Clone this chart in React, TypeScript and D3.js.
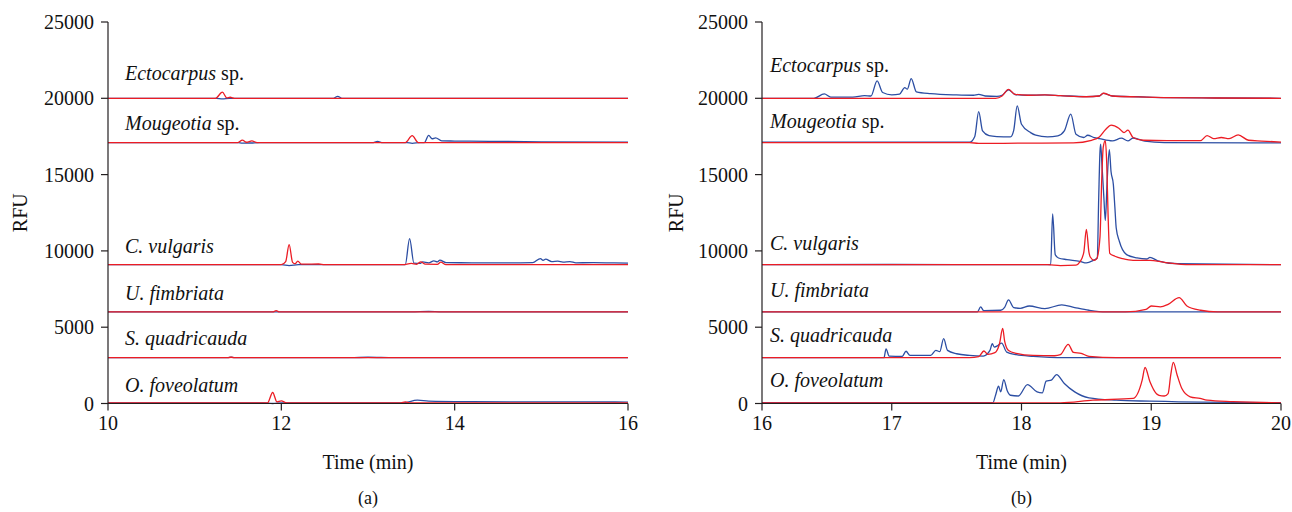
import React from 'react';
import * as d3 from 'd3';

type Pt = [number, number];

// ---------- data ----------
const speciesItalic = ['Ectocarpus', 'Mougeotia', 'C. vulgaris', 'U. fimbriata', 'S. quadricauda', 'O. foveolatum'];
const speciesSuffix = [' sp.', ' sp.', '', '', '', ''];
const traceOffsets = [20000, 17100, 9100, 6000, 3000, 40];

const yTicks = [0, 5000, 10000, 15000, 20000, 25000];
const xTicksA = [10, 12, 14, 16];
const xTicksB = [16, 17, 18, 19, 20];

// panel (a) traces: [time (min), signal above trace offset (RFU)]
const blueA: Pt[][] = [
  [[10, 0], [11.25, 0], [11.32, -40], [11.4, 0], [12.6, 0], [12.65, 130], [12.7, 0], [16, 0]],
  [[10, 0], [11.5, 0], [11.55, -40], [11.65, -30], [11.75, 0], [13.05, 0], [13.11, 70], [13.17, 0], [13.45, 0], [13.51, -50], [13.6, 0], [13.65, 0], [13.7, 470], [13.74, 250], [13.78, 310], [13.85, 110], [14.0, 100], [14.4, 80], [15.0, 50], [16, 30]],
  [[10, 0], [12.0, 0], [12.09, -60], [12.2, 0], [13.43, 0], [13.48, 1700], [13.53, 100], [13.6, 80], [13.63, 180], [13.7, 120], [13.76, 250], [13.8, 180], [13.83, 290], [13.9, 130], [14.2, 120], [14.6, 110], [14.9, 130], [14.99, 400], [15.02, 280], [15.05, 360], [15.12, 200], [15.19, 230], [15.25, 170], [15.33, 200], [15.4, 120], [15.6, 130], [15.84, 110], [16, 100]],
  [[10, 0], [13.5, 0], [13.7, 30], [13.85, 0], [16, 0]],
  [[10, 0], [11.38, 0], [11.42, 40], [11.46, 0], [12.8, 0], [13.0, 30], [13.3, 0], [16, 0]],
  [[10, 0], [11.8, 0], [11.9, -40], [12.0, 0], [13.4, 0], [13.57, 175], [13.7, 120], [14.2, 80], [15.0, 60], [15.5, 70], [16, 50]],
];
const redA: Pt[][] = [
  [[10, 0], [11.24, 0], [11.32, 400], [11.37, 30], [11.41, 70], [11.46, 0], [16, 0]],
  [[10, 0], [11.5, 0], [11.55, 160], [11.6, 20], [11.66, 110], [11.72, 0], [13.43, 0], [13.51, 450], [13.58, 0], [16, 0]],
  [[10, 0], [12.0, 0], [12.05, 200], [12.09, 1310], [12.13, 150], [12.16, 60], [12.19, 225], [12.23, 30], [12.43, 40], [12.5, 0], [13.4, 0], [13.5, 80], [13.56, 20], [13.61, 180], [13.66, 30], [13.8, 20], [13.84, 160], [13.9, 0], [16, 0]],
  [[10, 0], [11.9, 0], [11.94, 80], [11.98, 0], [16, 0]],
  [[10, 0], [11.38, 0], [11.42, 30], [11.46, 0], [16, 0]],
  [[10, 0], [11.84, 0], [11.9, 680], [11.95, 60], [12.0, 130], [12.06, 0], [13.38, 0], [13.43, 60], [13.48, 0], [16, 0]],
];

// panel (b) traces
const blueB: Pt[][] = [
  [[16, 0], [16.4, 0], [16.48, 285], [16.53, 80], [16.7, 80], [16.79, 175], [16.84, 150], [16.887, 1140], [16.93, 380], [17.0, 230], [17.06, 280], [17.1, 700], [17.12, 600], [17.15, 1290], [17.19, 420], [17.3, 300], [17.5, 220], [17.63, 200], [17.67, 260], [17.72, 150], [17.81, 120], [17.85, 200], [17.9, 560], [17.95, 250], [18.05, 200], [18.18, 220], [18.3, 180], [18.5, 110], [18.6, 150], [18.63, 320], [18.7, 150], [18.9, 100], [19.1, 50], [19.5, 20], [20, 0]],
  [[16, 30], [17.0, 30], [17.6, 20], [17.64, 400], [17.67, 2030], [17.7, 760], [17.75, 450], [17.81, 390], [17.915, 370], [17.94, 800], [17.967, 2400], [18.0, 1200], [18.07, 650], [18.11, 480], [18.2, 370], [18.28, 440], [18.33, 760], [18.38, 1860], [18.42, 545], [18.48, 330], [18.51, 480], [18.56, 330], [18.6, 260], [18.7, 110], [18.77, 285], [18.82, 110], [18.86, 300], [18.95, 100], [19.1, 0], [20, -20]],
  [[16, 0], [17.0, 10], [18.0, 0], [18.225, 0], [18.24, 3320], [18.26, 655], [18.285, 435], [18.35, 330], [18.45, 220], [18.5, 110], [18.55, 260], [18.584, 435], [18.595, 4370], [18.605, 7420], [18.61, 7900], [18.62, 6560], [18.635, 4370], [18.646, 2885], [18.66, 5450], [18.677, 7540], [18.69, 6100], [18.708, 5245], [18.72, 3710], [18.73, 2400], [18.754, 1530], [18.81, 655], [18.89, 440], [18.965, 370], [18.99, 480], [19.05, 250], [19.2, 60], [20, 0]],
  [[16, 0], [17.66, 0], [17.685, 330], [17.71, 80], [17.84, 110], [17.87, 300], [17.9, 790], [17.94, 285], [17.99, 240], [18.06, 390], [18.18, 220], [18.31, 460], [18.41, 285], [18.52, 110], [18.65, 0], [20, 0]],
  [[16, 0], [16.94, 0], [16.956, 580], [16.98, 100], [17.08, 80], [17.11, 425], [17.14, 150], [17.3, 150], [17.34, 480], [17.37, 400], [17.4, 1250], [17.43, 480], [17.5, 260], [17.6, 150], [17.705, 110], [17.757, 480], [17.775, 920], [17.79, 700], [17.82, 810], [17.847, 960], [17.886, 370], [17.96, 200], [18.09, 90], [18.33, 0], [20, 0]],
  [[16, 20], [17.0, 20], [17.78, 20], [17.8, 500], [17.823, 1090], [17.84, 720], [17.863, 1530], [17.89, 800], [17.915, 500], [17.976, 450], [18.046, 1200], [18.12, 720], [18.16, 655], [18.19, 1420], [18.23, 1490], [18.27, 1850], [18.33, 1270], [18.41, 720], [18.52, 330], [18.73, 175], [18.99, 110], [19.38, 45], [20, 20]],
];
const redB: Pt[][] = [
  [[16, 0], [17.8, 0], [17.85, 150], [17.9, 590], [17.95, 260], [18.05, 200], [18.18, 220], [18.3, 170], [18.5, 100], [18.6, 150], [18.63, 330], [18.7, 150], [18.9, 90], [19.1, 50], [19.5, 20], [20, 0]],
  [[16, 0], [17.6, 0], [17.67, -60], [18.0, -40], [18.4, -20], [18.54, 150], [18.6, 370], [18.65, 875], [18.69, 1140], [18.75, 940], [18.79, 655], [18.82, 810], [18.86, 330], [18.94, 150], [19.12, 130], [19.38, 130], [19.43, 460], [19.48, 260], [19.54, 330], [19.6, 260], [19.67, 500], [19.75, 150], [19.85, 100], [20, 30]],
  [[16, 0], [18.2, 0], [18.3, -60], [18.42, -30], [18.45, 175], [18.48, 800], [18.5, 2315], [18.52, 800], [18.53, 500], [18.56, 285], [18.58, 390], [18.605, 1810], [18.618, 5500], [18.63, 7700], [18.646, 8130], [18.657, 6600], [18.667, 3350], [18.68, 740], [18.72, 550], [18.78, 390], [18.86, 280], [18.99, 280], [19.1, 150], [19.3, 0], [20, 0]],
  [[16, 0], [18.8, 0], [18.96, 175], [19.0, 390], [19.07, 330], [19.13, 500], [19.215, 940], [19.275, 390], [19.38, 110], [19.51, 0], [20, 0]],
  [[16, 0], [17.6, 0], [17.67, 65], [17.71, 440], [17.74, 220], [17.795, 330], [17.83, 900], [17.855, 1920], [17.87, 1095], [17.9, 480], [17.96, 285], [18.09, 150], [18.255, 130], [18.3, 200], [18.36, 875], [18.4, 350], [18.46, 285], [18.52, 90], [18.73, 0], [20, 0]],
  [[16, 0], [18.3, 0], [18.55, 175], [18.86, 290], [18.93, 1490], [18.952, 2320], [18.99, 1380], [19.04, 600], [19.06, 500], [19.1, 450], [19.13, 610], [19.15, 1815], [19.17, 2650], [19.2, 1815], [19.236, 940], [19.3, 400], [19.376, 290], [19.43, 175], [19.63, 80], [20, 0]],
];

// ---------- layout ----------
const W = 1292;
const H = 512;
const FONT = '"Liberation Serif", "Times New Roman", serif';
const BLUE = '#2c4ea3';
const RED = '#ec1c24';
const AXIS = '#231f20';
const Y_TOP = 22;
const Y_BOTTOM = 403.5;
const labelLiftA = [21220, 17940, 9850, 6790, 3840, 775];
const labelLiftB = [21740, 18045, 10050, 6990, 4040, 1090];

type PanelProps = {
  domain: [number, number];
  range: [number, number];
  xTicks: number[];
  blue: Pt[][];
  red: Pt[][];
  labelY: number[];
  labelX: number;
  rfuX: number;
  caption: string;
};

function Panel({ domain, range, xTicks, blue, red, labelY, labelX, rfuX, caption }: PanelProps) {
  const x = d3.scaleLinear().domain(domain).range(range);
  const y = d3.scaleLinear().domain([0, 25000]).range([Y_BOTTOM, Y_TOP]);
  const mk = (off: number) =>
    d3
      .line<Pt>()
      .x((d) => x(d[0]))
      .y((d) => y(d[1] + off))
      .curve(d3.curveMonotoneX);
  const x0 = range[0];
  const cx = (range[0] + range[1]) / 2;
  return (
    <g>
      {blue.map((s, i) => (
        <path key={'b' + i} d={mk(traceOffsets[i])(s) || ''} fill="none" stroke={BLUE} strokeWidth={1.3} />
      ))}
      {red.map((s, i) => (
        <path key={'r' + i} d={mk(traceOffsets[i])(s) || ''} fill="none" stroke={RED} strokeWidth={1.3} />
      ))}
      {speciesItalic.map((n, i) => (
        <text key={'l' + i} x={labelX} y={y(labelY[i])} fontFamily={FONT} fontSize={20} fontStyle="italic" fill="#111" style={{ whiteSpace: 'pre' }}>
          {n}
          {speciesSuffix[i] && <tspan fontStyle="normal">{speciesSuffix[i]}</tspan>}
        </text>
      ))}
      <line x1={x0} x2={x0} y1={y(0)} y2={y(25000)} stroke={AXIS} strokeWidth={1.2} />
      {yTicks.map((t) => (
        <g key={'yt' + t}>
          <line x1={x0 - 7} x2={x0} y1={y(t)} y2={y(t)} stroke={AXIS} strokeWidth={1.2} />
          <text x={x0 - 14} y={y(t)} dy="0.35em" textAnchor="end" fontFamily={FONT} fontSize={20} fill="#111">
            {t}
          </text>
        </g>
      ))}
      <line x1={range[0]} x2={range[1]} y1={y(0)} y2={y(0)} stroke={AXIS} strokeWidth={1.2} />
      {xTicks.map((t) => (
        <g key={'xt' + t}>
          <line x1={x(t)} x2={x(t)} y1={y(0)} y2={y(0) + 7} stroke={AXIS} strokeWidth={1.2} />
          <text x={x(t)} y={y(0) + 26} textAnchor="middle" fontFamily={FONT} fontSize={20} fill="#111">
            {t}
          </text>
        </g>
      ))}
      <text x={cx} y={469} textAnchor="middle" fontFamily={FONT} fontSize={20} fill="#111">
        Time (min)
      </text>
      <text x={rfuX} y={(Y_TOP + Y_BOTTOM) / 2} textAnchor="middle" fontFamily={FONT} fontSize={20} fill="#111" transform={`rotate(-90 ${rfuX} ${(Y_TOP + Y_BOTTOM) / 2})`} dy="0.35em">
        RFU
      </text>
      <text x={cx} y={504} textAnchor="middle" fontFamily={FONT} fontSize={18} fill="#111">
        {caption}
      </text>
    </g>
  );
}

export default function App() {
  return (
    <svg width={W} height={H} style={{ position: 'absolute', left: 0, top: 0, background: '#fff' }}>
      <rect width={W} height={H} fill="#fff" />
      <Panel domain={[10, 16]} range={[108, 628]} xTicks={xTicksA} blue={blueA} red={redA} labelY={labelLiftA} labelX={125} rfuX={20} caption="(a)" />
      <Panel domain={[16, 20]} range={[762, 1281]} xTicks={xTicksB} blue={blueB} red={redB} labelY={labelLiftB} labelX={770} rfuX={676} caption="(b)" />
    </svg>
  );
}
